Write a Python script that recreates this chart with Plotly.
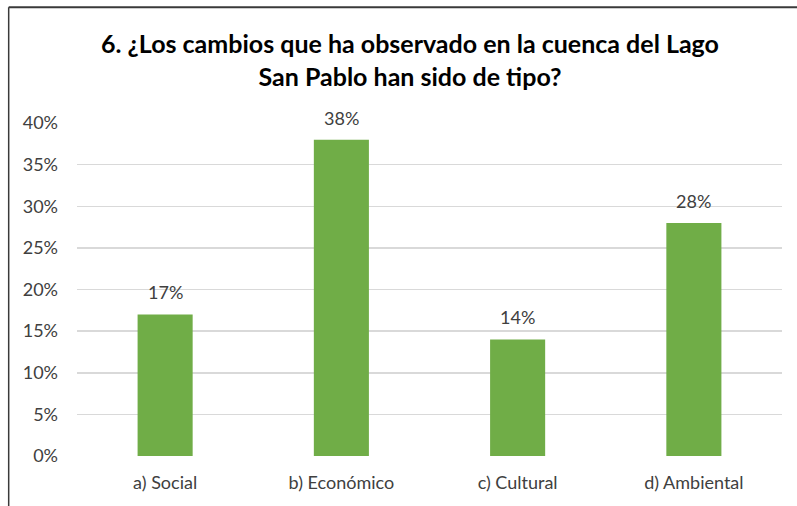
import plotly.graph_objects as go

categories = ["a) Social", "b) Económico", "c) Cultural", "d) Ambiental"]
values = [0.17, 0.38, 0.14, 0.28]
tick_vals = [0, 0.05, 0.10, 0.15, 0.20, 0.25, 0.30, 0.35, 0.40]
tick_text = ["0%", "5%", "10%", "15%", "20%", "25%", "30%", "35%", "40%"]
title_text = "6. ¿Los cambios que ha observado en la cuenca del Lago<br>San Pablo han sido de tipo?"

FONT = "Lato"
W, H = 797, 506

fig = go.Figure()
fig.add_trace(go.Bar(
    x=categories, y=values,
    marker=dict(color="#70AD47", line=dict(width=0)),
    width=0.3125,
    hoverinfo="skip",
))

for c, v in zip(categories, values):
    fig.add_annotation(
        x=c, y=v, text=f"{round(v*100)}%", showarrow=False,
        xref="x", yref="y", yanchor="bottom", yshift=9,
        font=dict(family=FONT, size=18, color="#404040"),
    )

line_col = "#3a3a3a"
fig.add_shape(type="line", xref="paper", yref="paper",
              x0=-0.0969, x1=1.05, y0=1.3474, y1=1.3474,
              line=dict(color=line_col, width=2))
fig.add_shape(type="line", xref="paper", yref="paper",
              x0=-0.0969, x1=-0.0969, y0=1.3474, y1=-0.2,
              line=dict(color=line_col, width=1.5))

fig.update_layout(
    width=W, height=H,
    margin=dict(l=77, r=15, t=123, b=50),
    paper_bgcolor="white", plot_bgcolor="white",
    showlegend=False,
    bargap=0.6875,
    title=dict(
        text="<b>" + title_text + "</b>",
        x=410/W, xanchor="center", y=1 - 53/H, yanchor="middle",
        xref="container", yref="container",
        font=dict(family=FONT, size=25, color="#000000"),
    ),
    font=dict(family=FONT),
)
fig.update_xaxes(
    showgrid=False, showline=False, zeroline=False, ticks="",
    tickfont=dict(family=FONT, size=18, color="#404040"),
    ticklabelstandoff=14,
)
fig.update_yaxes(
    range=[0, 0.4], tickvals=tick_vals, ticktext=tick_text,
    showgrid=True, gridcolor="#D9D9D9", gridwidth=1.5,
    zeroline=False, showline=False, ticks="",
    tickfont=dict(family=FONT, size=18, color="#404040"),
    ticklabelstandoff=18,
)

fig.write_html(
    "out.html",
    config={"displayModeBar": False, "staticPlot": True},
    post_script="document.body.style.margin='0';document.body.style.overflow='hidden';",
)
